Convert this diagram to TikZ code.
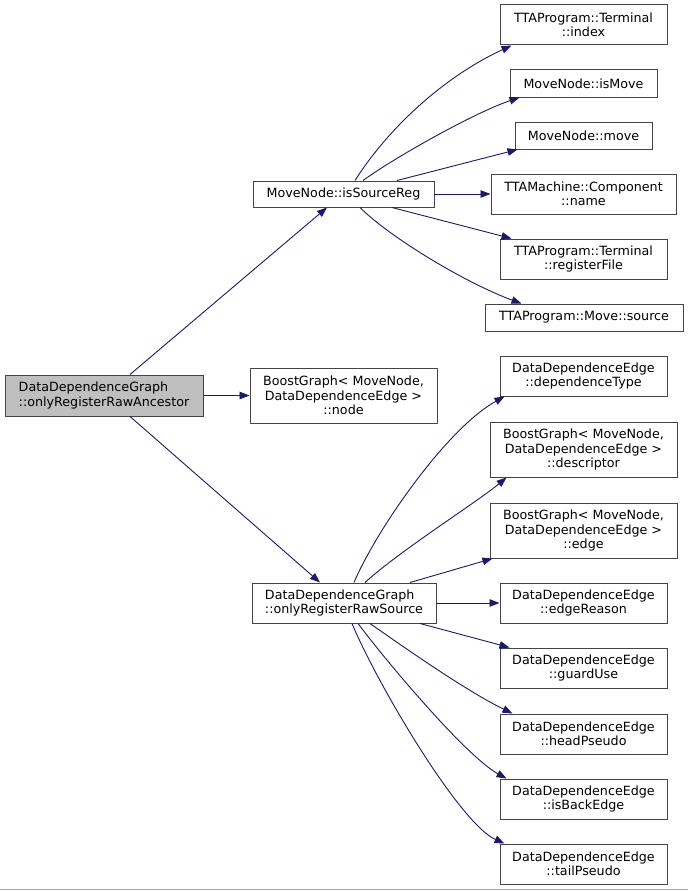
\documentclass[tikz,border=0pt]{standalone}
\usepackage{fontspec}
\setmainfont{DejaVu Sans}
\usetikzlibrary{arrows.meta,calc}
\definecolor{edgeblue}{HTML}{191970}
\definecolor{boxline}{HTML}{444444}
\definecolor{rootfill}{HTML}{BFBFBF}
\begin{document}
\begin{tikzpicture}[x=1pt,y=-1pt,
  box/.style={draw=boxline,line width=1pt,fill=white,inner sep=0pt,align=center,
    font=\fontsize{12.7}{14.5}\selectfont},
  rootbox/.style={box,fill=rootfill},
  link/.style={draw=edgeblue,line width=0.9pt,-{Triangle[length=10pt,width=7.5pt]}}]
\useasboundingbox (0,0) rectangle (688,891);
\fill[white] (0,0) rectangle (688,891);
\draw[gray!70,line width=1.5pt] (0,889.5) -- (688,889.5);

\node[rootbox,align=left,minimum width=198pt,minimum height=41pt] (root) at (104,395.5) {DataDependenceGraph\\::onlyRegisterRawAncestor};
\node[box,minimum width=181pt,minimum height=26pt] (isr) at (343.5,194) {MoveNode::isSourceReg};
\node[box,minimum width=187pt,minimum height=55pt] (bgn) at (343.5,395.5) {BoostGraph< MoveNode,\\DataDependenceEdge >\\::node};
\node[box,align=left,minimum width=184pt,minimum height=40pt] (orrs) at (344,603) {DataDependenceGraph\\::onlyRegisterRawSource};

\node[box,minimum width=167pt,minimum height=40pt] (idx) at (583.5,25) {TTAProgram::Terminal\\::index};
\node[box,minimum width=147pt,minimum height=27pt] (ism) at (583.5,83.5) {MoveNode::isMove};
\node[box,minimum width=137pt,minimum height=27pt] (mv) at (583.5,135.5) {MoveNode::move};
\node[box,minimum width=185pt,minimum height=40pt] (cmp) at (583.5,194) {TTAMachine::Component\\::name};
\node[box,minimum width=167pt,minimum height=40pt] (rf) at (583.5,259) {TTAProgram::Terminal\\::registerFile};
\node[box,minimum width=198pt,minimum height=27pt] (src) at (584,317.5) {TTAProgram::Move::source};

\node[box,minimum width=167pt,minimum height=40pt] (dt) at (583.5,376) {DataDependenceEdge\\::dependenceType};
\node[box,minimum width=187pt,minimum height=55pt] (desc) at (583.5,449.5) {BoostGraph< MoveNode,\\DataDependenceEdge >\\::descriptor};
\node[box,minimum width=187pt,minimum height=55pt] (edg) at (583.5,530.5) {BoostGraph< MoveNode,\\DataDependenceEdge >\\::edge};
\node[box,minimum width=167pt,minimum height=40pt] (er) at (583.5,603) {DataDependenceEdge\\::edgeReason};
\node[box,minimum width=167pt,minimum height=40pt] (gu) at (583.5,668) {DataDependenceEdge\\::guardUse};
\node[box,minimum width=167pt,minimum height=40pt] (hp) at (583.5,734) {DataDependenceEdge\\::headPseudo};
\node[box,minimum width=167pt,minimum height=40pt] (ibe) at (583.5,799) {DataDependenceEdge\\::isBackEdge};
\node[box,minimum width=167pt,minimum height=40pt] (tp) at (583.5,864) {DataDependenceEdge\\::tailPseudo};

% root edges
\draw[link] ($(root.north)+(26,0)$) -- ($(isr.south)+(-16.5,0)$);
\draw[link] (root.east) -- (bgn.west);
\draw[link] ($(root.south)+(26,0)$) -- ($(orrs.north)+(-24,0)$);

% isSourceReg edges
\draw[link] ($(isr.north)+(11.5,0)$) .. controls +(35,-55) and +(-65,30) .. ($(idx.south west)+(12,0)$);
\draw[link] ($(isr.north)+(19.5,0)$) .. controls +(30,-22) and +(-45,15) .. ($(ism.south west)+(10,0)$);
\draw[link] ($(isr.north)+(53.5,0)$) -- ($(mv.south west)+(3,0)$);
\draw[link] (isr.east) -- (cmp.west);
\draw[link] ($(isr.south)+(48.5,0)$) -- ($(rf.north west)+(12,0)$);
\draw[link] ($(isr.south)+(16.5,0)$) .. controls +(30,30) and +(-55,-20) .. ($(src.north west)+(37,0)$);

% onlyRegisterRawSource edges
\draw[link] ($(orrs.north)+(10,0)$) .. controls +(22,-52) and +(-58,32) .. ($(dt.south west)+(5,0)$);
\draw[link] ($(orrs.north)+(21,0)$) .. controls +(35,-32) and +(-30,25) .. ($(desc.south west)+(17,0)$);
\draw[link] ($(orrs.north)+(66,0)$) -- ($(edg.south west)+(3,0)$);
\draw[link] (orrs.east) -- (er.west);
\draw[link] ($(orrs.south)+(76,0)$) -- ($(gu.north west)+(10,0)$);
\draw[link] ($(orrs.south)+(26,0)$) .. controls +(40,28) and +(-45,-22) .. ($(hp.north west)+(13,0)$);
\draw[link] ($(orrs.south)+(14,0)$) .. controls +(30,40) and +(-40,-22) .. ($(ibe.north west)+(7,0)$);
\draw[link] ($(orrs.south)+(8,0)$) .. controls +(25,60) and +(-45,-20) .. ($(tp.north west)+(5,0)$);
\end{tikzpicture}
\end{document}
